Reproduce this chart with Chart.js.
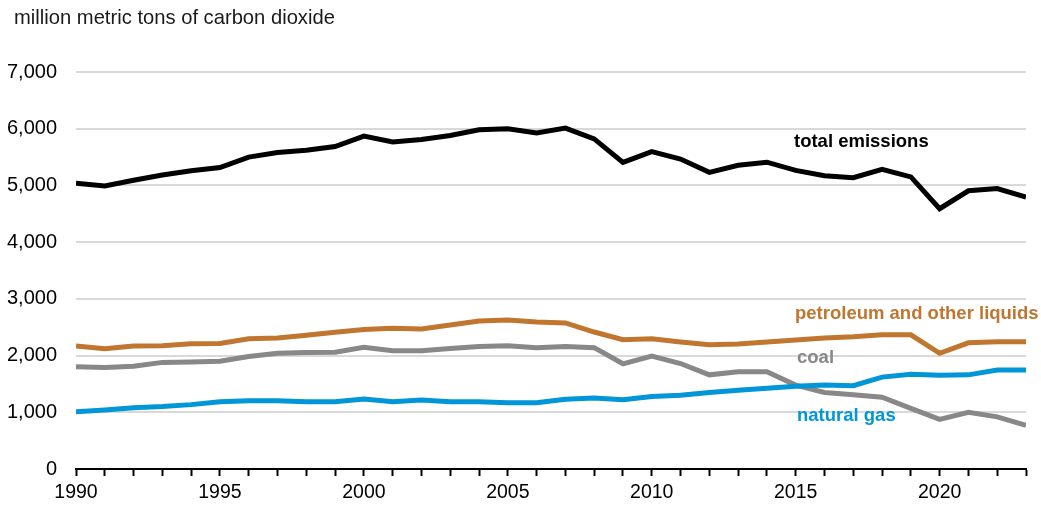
<!DOCTYPE html>
<html>
<head>
<meta charset="utf-8">
<script src="https://cdn.jsdelivr.net/npm/chart.js@4"></script>
<style>
  html, body { margin: 0; padding: 0; background: #fff; }
  #wrap { width: 1041px; height: 506px; position: relative; }
</style>
</head>
<body>
<div id="wrap"><canvas id="chart"></canvas></div>
<script>
const years = [];
for (let y = 1990; y <= 2023; y++) years.push(y);

const totalEmissions = [5040, 4990, 5090, 5185, 5260, 5315, 5500, 5580, 5620, 5685, 5870, 5765, 5810, 5880, 5980, 6000, 5925, 6010, 5820, 5405, 5595, 5465, 5230, 5355, 5410, 5265, 5170, 5135, 5285, 5150, 4590, 4905, 4945, 4795];
const petroleum = [2170, 2120, 2170, 2175, 2210, 2215, 2295, 2310, 2360, 2410, 2460, 2480, 2470, 2540, 2610, 2625, 2590, 2575, 2415, 2280, 2295, 2240, 2190, 2205, 2240, 2275, 2310, 2330, 2365, 2365, 2040, 2225, 2245, 2245];
const coal = [1805, 1790, 1810, 1880, 1885, 1900, 1985, 2040, 2055, 2060, 2145, 2085, 2085, 2125, 2160, 2175, 2140, 2160, 2140, 1855, 1990, 1860, 1660, 1715, 1715, 1480, 1350, 1310, 1265, 1070, 875, 1000, 920, 770];
const naturalGas = [1010, 1040, 1080, 1100, 1135, 1185, 1205, 1205, 1185, 1185, 1235, 1185, 1215, 1185, 1185, 1170, 1170, 1230, 1250, 1220, 1280, 1300, 1350, 1390, 1425, 1460, 1480, 1470, 1620, 1670, 1655, 1660, 1745, 1745];

const seriesNames = ['total emissions', 'petroleum and other liquids', 'coal', 'natural gas'];
const seriesColors = ['#000000', '#c0762f', '#888888', '#0096d7'];
const seriesData = [totalEmissions, petroleum, coal, naturalGas];

const yTicks = [0, 1000, 2000, 3000, 4000, 5000, 6000, 7000];
const xLabelYears = [1990, 1995, 2000, 2005, 2010, 2015, 2020];

const FONT = '"Liberation Sans", Arial, sans-serif';

// inline series labels and the unit title
const labelPlugin = {
    id: 'labels',
    afterDraw(chart) {
        const ctx = chart.ctx;
        ctx.save();
        ctx.textBaseline = 'middle';
        ctx.textAlign = 'left';
        ctx.fillStyle = '#1a1a1a';
        ctx.font = '20.2px ' + FONT;
        ctx.fillText('million metric tons of carbon dioxide', 14, 18);

        const spots = [
            {x: 794, y: 142},
            {x: 795, y: 314},
            {x: 797, y: 358},
            {x: 797, y: 416},
        ];
        ctx.font = 'bold 18.5px ' + FONT;
        spots.forEach((s, i) => {
            ctx.fillStyle = seriesColors[i];
            ctx.fillText(seriesNames[i], s.x, s.y);
        });
        ctx.restore();
    }
};

new Chart(document.getElementById('chart'), {
    type: 'line',
    data: {
        datasets: seriesData.map((d, i) => ({
            label: seriesNames[i],
            data: d.map((v, j) => ({x: years[j], y: v})),
            borderColor: seriesColors[i],
            borderWidth: 5,
            pointRadius: 0,
            tension: 0,
            fill: false,
        })).reverse(),
    },
    options: {
        responsive: true,
        maintainAspectRatio: false,
        animation: false,
        layout: {padding: {top: 72, right: 15, left: 0, bottom: 0}},
        plugins: {legend: {display: false}, tooltip: {enabled: false}},
        scales: {
            x: {
                type: 'linear',
                min: 1990,
                max: 2023,
                afterBuildTicks: scale => {
                    scale.ticks = years.map(v => ({value: v}));
                },
                afterFit: scale => { scale.height = 37; },
                ticks: {
                    autoSkip: false,
                    maxRotation: 0,
                    padding: 5,
                    color: '#000',
                    font: {family: FONT, size: 19.5},
                    callback: v => xLabelYears.includes(v) ? String(v) : '',
                },
                grid: {
                    drawOnChartArea: false,
                    drawTicks: true,
                    tickLength: 7,
                    tickWidth: 2,
                    color: '#000',
                },
                border: {color: '#000', width: 2},
            },
            y: {
                min: 0,
                max: 7000,
                afterBuildTicks: scale => {
                    scale.ticks = yTicks.map(v => ({value: v}));
                },
                afterFit: scale => { scale.width = 76; },
                ticks: {
                    padding: 19,
                    color: '#000',
                    font: {family: FONT, size: 20},
                    callback: v => v.toLocaleString('en-US'),
                },
                grid: {
                    drawTicks: false,
                    color: ctx => ctx.tick && ctx.tick.value === 0 ? 'rgba(0,0,0,0)' : '#d9d9d9',
                    lineWidth: 2,
                },
                border: {display: false},
            },
        },
    },
    plugins: [labelPlugin],
});
</script>
</body>
</html>
